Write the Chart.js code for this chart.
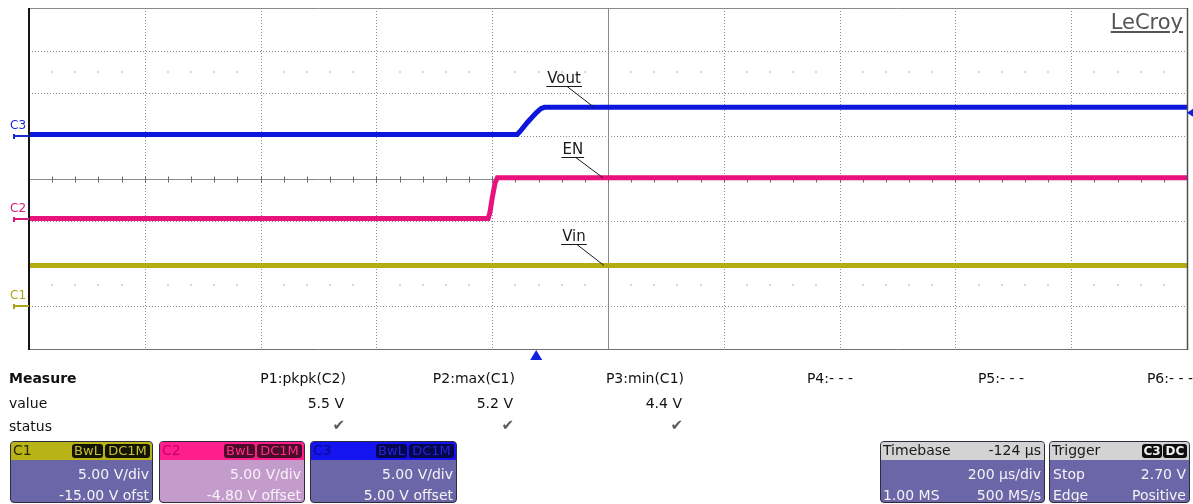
<!DOCTYPE html>
<html><head><meta charset="utf-8">
<script src="https://cdn.jsdelivr.net/npm/chart.js@4.4.0/dist/chart.umd.min.js"></script>
<style>
html,body{margin:0;padding:0;background:#fff;overflow:hidden}
#wrap{position:relative;width:1193px;height:504px;font-family:"DejaVu Sans",sans-serif;background:#fff}
#c{position:absolute;left:0;top:0}
.t{position:absolute;white-space:nowrap;line-height:1;font-size:14px;color:#111}
.box{position:absolute;top:441px;height:60px;border:1px solid #2c2c3c;border-radius:4px;overflow:hidden}
.hdr{position:absolute;left:0;right:0;top:0;height:18px}
.badge{position:absolute;top:2px;height:14px;border-radius:3px;font-size:13px;line-height:14px;text-align:center}
</style></head><body><div id="wrap"><canvas id="c" width="1193" height="504"></canvas></div>
<script>
// ---------- data ----------
const timePerDivUs = 200;
const timebaseDelayUs = -124;
const divisionsX = 10, divisionsY = 8;

const channelNames = ['C1', 'C2', 'C3'];
const channelVoltsPerDiv = [5, 5, 5];
const channelOffsetV = [-15, -4.8, 5];
const channelOffsetText = ['-15.00 V ofst', '-4.80 V offset', '5.00 V offset'];
const traceNames = ['Vin', 'EN', 'Vout'];

// Vin (C1)
const vinTimeUs = [-876, 1124];
const vinVolts  = [4.8, 4.8];
// EN (C2)
const enTimeUs = [-876, -83, -80, -76, -71, -67, 1124];
const enVolts  = [0.1, 0.1, 0.8, 2.5, 4.3, 4.9, 4.9];
// Vout (C3)
const voutTimeUs = [-876, -33, -28, -15, 0, 8, 14, 1124];
const voutVolts  = [0.15, 0.15, 0.5, 1.6, 2.7, 3.2, 3.35, 3.35];

const triggerLevelV = 2.70;
const triggerChannel = 2;

const measHeaders = ['P1:pkpk(C2)', 'P2:max(C1)', 'P3:min(C1)', 'P4:- - -', 'P5:- - -', 'P6:- - -'];
const measValues  = ['5.5 V', '5.2 V', '4.4 V', '', '', ''];
const measStatus  = [true, true, true, false, false, false];

// ---------- styles / layout ----------
const traceColors = ['#b3ad12', '#e8127c', '#0c16dc'];
const labelColors = ['#aaa418', '#d81a78', '#1a2ad0'];
const measRight = [346, 515, 684, 853, 1024, 1193];
const W = 1193;

const xCenter = -timebaseDelayUs;
const xMin = xCenter - timePerDivUs * divisionsX / 2;
const xMax = xCenter + timePerDivUs * divisionsX / 2;

function pts(t, v) { return t.map((x, i) => ({x: x, y: v[i]})); }
const seriesT = [vinTimeUs, enTimeUs, voutTimeUs];
const seriesV = [vinVolts, enVolts, voutVolts];

const yScales = {};
channelNames.forEach((n, i) => {
  const half = channelVoltsPerDiv[i] * divisionsY / 2;
  yScales['y' + n] = {type: 'linear', display: false, min: -half - channelOffsetV[i], max: half - channelOffsetV[i]};
});

const scopePlugin = {
  id: 'scope',
  beforeDatasetsDraw(chart) {
    const {ctx, chartArea: a, scales} = chart;
    const xs = scales.x, yd = scales.ydiv;
    ctx.save();
    // faint dot rows
    ctx.fillStyle = '#d6d6d6';
    [2.5, -2.5].forEach(d => {
      const y = Math.round(yd.getPixelForValue(d));
      for (let k = 1; k < divisionsX * 5; k++) {
        if (k % 5 === 0) continue;
        const x = Math.round(xs.getPixelForValue(xMin + k * timePerDivUs / 5));
        ctx.fillRect(x - 1, y - 1, 2, 2);
      }
    });
    // dotted grid
    ctx.strokeStyle = '#8e8e8e';
    ctx.lineWidth = 1;
    ctx.setLineDash([1, 2]);
    for (let k = 1; k < divisionsX; k++) {
      if (k === divisionsX / 2) continue;
      const x = Math.round(xs.getPixelForValue(xMin + k * timePerDivUs)) + 0.5;
      ctx.beginPath(); ctx.moveTo(x, a.top); ctx.lineTo(x, a.bottom); ctx.stroke();
    }
    for (let d = -divisionsY / 2 + 1; d < divisionsY / 2; d++) {
      if (d === 0) continue;
      const y = Math.round(yd.getPixelForValue(d)) + 0.5;
      ctx.beginPath(); ctx.moveTo(a.left, y); ctx.lineTo(a.right, y); ctx.stroke();
    }
    ctx.setLineDash([]);
    // centre axes
    ctx.strokeStyle = '#8a8a8a';
    const cx = Math.round(xs.getPixelForValue(xCenter)) + 0.5;
    const cy = Math.round(yd.getPixelForValue(0)) + 0.5;
    ctx.beginPath(); ctx.moveTo(cx, a.top); ctx.lineTo(cx, a.bottom); ctx.stroke();
    ctx.beginPath(); ctx.moveTo(a.left, cy); ctx.lineTo(a.right, cy); ctx.stroke();
    ctx.strokeStyle = '#6a6a6a';
    for (let k = 1; k < divisionsX * 5; k++) {
      const x = Math.round(xs.getPixelForValue(xMin + k * timePerDivUs / 5)) + 0.5;
      ctx.beginPath(); ctx.moveTo(x, cy - 3); ctx.lineTo(x, cy + 3); ctx.stroke();
    }
    ctx.restore();
  },
  afterDatasetsDraw(chart) {
    const {ctx, chartArea: a, scales} = chart;
    const xs = scales.x;
    ctx.save();
    // frame
    ctx.lineWidth = 1;
    ctx.strokeStyle = '#8a8a8a';
    ctx.beginPath(); ctx.moveTo(a.left, a.top + 0.5); ctx.lineTo(a.right, a.top + 0.5); ctx.stroke();
    ctx.strokeStyle = '#707070';
    ctx.beginPath(); ctx.moveTo(a.left, a.bottom + 0.5); ctx.lineTo(a.right, a.bottom + 0.5); ctx.stroke();
    ctx.strokeStyle = '#505050'; ctx.lineWidth = 1.5;
    ctx.beginPath(); ctx.moveTo(a.right + 0.5, a.top); ctx.lineTo(a.right + 0.5, a.bottom + 1); ctx.stroke();
    ctx.strokeStyle = '#151515'; ctx.lineWidth = 2;
    ctx.beginPath(); ctx.moveTo(a.left, a.top); ctx.lineTo(a.left, a.bottom + 1); ctx.stroke();
    // channel ground markers
    channelNames.forEach((n, i) => {
      const g = Math.round(scales['y' + n].getPixelForValue(0));
      ctx.fillStyle = labelColors[i];
      ctx.fillRect(13, g - 1, a.left - 13, 2);
      ctx.fillRect(13, g - 2, 2, 5);
    });
    // trigger time marker
    const tx = xs.getPixelForValue(0);
    ctx.fillStyle = '#1020e0';
    ctx.beginPath(); ctx.moveTo(tx, a.bottom + 1); ctx.lineTo(tx + 6, a.bottom + 11); ctx.lineTo(tx - 6, a.bottom + 11); ctx.closePath(); ctx.fill();
    // trigger level marker
    const ty = scales['y' + channelNames[triggerChannel]].getPixelForValue(triggerLevelV);
    ctx.beginPath(); ctx.moveTo(a.right, ty); ctx.lineTo(a.right + 6, ty - 4); ctx.lineTo(a.right + 6, ty + 4); ctx.closePath(); ctx.fill();
    // annotation leaders
    ctx.strokeStyle = '#1a1a1a'; ctx.lineWidth = 1;
    ctx.font = '15px "DejaVu Sans"';
    noteAnchors.length = 0;
    notes.forEach(nt => {
      const ch = nt.ch;
      const v = seriesV[ch][seriesV[ch].length - 1];
      const ex = xs.getPixelForValue(nt.t);
      const ey = scales['y' + channelNames[ch]].getPixelForValue(v);
      const sx = ex - 27, sy = Math.round(ey - 21) + 0.5;
      const w = ctx.measureText(traceNames[ch]).width + 2;
      ctx.beginPath(); ctx.moveTo(sx, sy); ctx.lineTo(ex, ey); ctx.stroke();
      ctx.beginPath(); ctx.moveTo(sx - 3 - w / 2, sy); ctx.lineTo(sx - 3 + w / 2, sy); ctx.stroke();
      noteAnchors.push({text: traceNames[ch], left: sx - 3 - w / 2 + 1, top: sy - 16});
    });
    ctx.restore();
  }
};
const notes = [{ch: 2, t: 100}, {ch: 1, t: 115}, {ch: 0, t: 117}];
const noteAnchors = [];

const chart = new Chart(document.getElementById('c'), {
  type: 'line',
  data: {
    datasets: channelNames.map((n, i) => ({
      label: traceNames[i],
      data: pts(seriesT[i], seriesV[i]),
      yAxisID: 'y' + n,
      borderColor: traceColors[i],
      backgroundColor: traceColors[i],
      borderWidth: 5,
      pointRadius: 0,
      tension: 0,
      fill: false
    }))
  },
  options: {
    responsive: false, animation: false, events: [],
    layout: {padding: {left: 29, top: 8, right: 6, bottom: 155}},
    plugins: {legend: {display: false}, tooltip: {enabled: false}},
    scales: Object.assign({
      x: {type: 'linear', display: false, min: xMin, max: xMax},
      ydiv: {type: 'linear', display: false, min: -divisionsY / 2, max: divisionsY / 2}
    }, yScales)
  },
  plugins: [scopePlugin]
});

// ---------- text ----------
const wrap = document.getElementById('wrap');
function put(parent, text, o) {
  const s = document.createElement('div');
  s.className = 't';
  s.textContent = text;
  const st = s.style;
  if (o.left != null) st.left = o.left + 'px';
  if (o.right != null) st.right = o.right + 'px';
  st.top = o.top + 'px';
  if (o.size) st.fontSize = o.size + 'px';
  if (o.bold) st.fontWeight = 'bold';
  if (o.color) st.color = o.color;
  if (o.extra) Object.assign(st, o.extra);
  parent.appendChild(s);
  return s;
}

// annotations
noteAnchors.forEach(n => put(wrap, n.text, {left: n.left, top: n.top, size: 15, color: '#1a1a1a'}));
// channel labels
channelNames.forEach((n, i) => {
  const g = Math.round(chart.scales['y' + n].getPixelForValue(0));
  put(wrap, n, {left: 10, top: g - 17, size: 12, color: labelColors[i]});
});
// LeCroy
put(wrap, 'LeCroy', {right: W - 1183, top: 12, size: 21, color: '#555',
  extra: {textDecoration: 'underline', textDecorationThickness: '2px', textUnderlineOffset: '2px'}});

// measurement table
put(wrap, 'Measure', {left: 9, top: 371, bold: true});
put(wrap, 'value', {left: 9, top: 396});
put(wrap, 'status', {left: 9, top: 419});
measHeaders.forEach((h, i) => {
  put(wrap, h, {right: W - measRight[i], top: 371});
  if (measValues[i]) put(wrap, measValues[i], {right: W - measRight[i] + 2, top: 396});
  if (measStatus[i]) put(wrap, '\u2714', {right: W - measRight[i] + 1, top: 418, color: '#5a5a5a', size: 15});
});

// channel boxes
const boxLeft = [10, 159, 310];
const boxWidth = [141, 144, 145];
const boxStyle = [
  {hdr: '#b8b418', hdrText: '#2a2a00', bBg: '#141404', bTxt: '#c8c030', body: '#6a66a8', bodyText: '#f4f4f4'},
  {hdr: '#ff1f8c', hdrText: '#c8006a', bBg: '#4a0c26', bTxt: '#ff2a8e', body: '#c49ccc', bodyText: '#f8f2f8'},
  {hdr: '#1414f0', hdrText: '#0a0a8a', bBg: '#06064c', bTxt: '#2424e0', body: '#6a66a8', bodyText: '#f4f4f4'}
];
channelNames.forEach((n, i) => {
  const st = boxStyle[i];
  const b = document.createElement('div');
  b.className = 'box';
  b.style.left = boxLeft[i] + 'px';
  b.style.width = boxWidth[i] + 'px';
  b.style.background = st.body;
  wrap.appendChild(b);
  const h = document.createElement('div');
  h.className = 'hdr'; h.style.background = st.hdr; b.appendChild(h);
  put(h, n, {left: 2, top: 1, color: st.hdrText});
  const mk = (txt, right, w) => {
    const d = document.createElement('div');
    d.className = 'badge'; d.textContent = txt;
    d.style.right = right + 'px'; d.style.width = w + 'px';
    d.style.background = st.bBg; d.style.color = st.bTxt;
    h.appendChild(d);
  };
  mk('DC1M', 2, 45);
  mk('BwL', 49, 31);
  put(b, channelVoltsPerDiv[i].toFixed(2) + ' V/div', {right: 3, top: 25, color: st.bodyText});
  put(b, channelOffsetText[i], {right: 3, top: 46, color: st.bodyText});
});

// timebase box
function infoBox(left, width) {
  const b = document.createElement('div');
  b.className = 'box';
  b.style.left = left + 'px'; b.style.width = width + 'px';
  b.style.background = '#6a66a8';
  wrap.appendChild(b);
  const h = document.createElement('div');
  h.className = 'hdr'; h.style.background = '#d3d3d3'; b.appendChild(h);
  return [b, h];
}
const [tb, tbh] = infoBox(880, 163);
put(tbh, 'Timebase', {left: 2, top: 1, color: '#1a1a1a'});
put(tbh, timebaseDelayUs + ' \u00b5s', {right: 3, top: 1, color: '#1a1a1a'});
put(tb, timePerDivUs + ' \u00b5s/div', {right: 3, top: 25, color: '#f4f4f4'});
put(tb, '1.00 MS', {left: 2, top: 46, color: '#f4f4f4'});
put(tb, '500 MS/s', {right: 3, top: 46, color: '#f4f4f4'});

const [tg, tgh] = infoBox(1049, 139);
put(tgh, 'Trigger', {left: 2, top: 1, color: '#1a1a1a'});
[['DC', 2, 24], ['C3', 27, 20]].forEach(([t, r, w]) => {
  const d = document.createElement('div');
  d.className = 'badge'; d.textContent = t;
  d.style.right = r + 'px'; d.style.width = w + 'px';
  d.style.background = '#0e0e0e'; d.style.color = '#f0f0f0';
  d.style.fontWeight = 'bold'; d.style.fontSize = '12px';
  tgh.appendChild(d);
});
put(tg, 'Stop', {left: 3, top: 25, color: '#f4f4f4'});
put(tg, triggerLevelV.toFixed(2) + ' V', {right: 3, top: 25, color: '#f4f4f4'});
put(tg, 'Edge', {left: 3, top: 46, color: '#f4f4f4'});
put(tg, 'Positive', {right: 3, top: 46, color: '#f4f4f4'});
</script></body></html>
